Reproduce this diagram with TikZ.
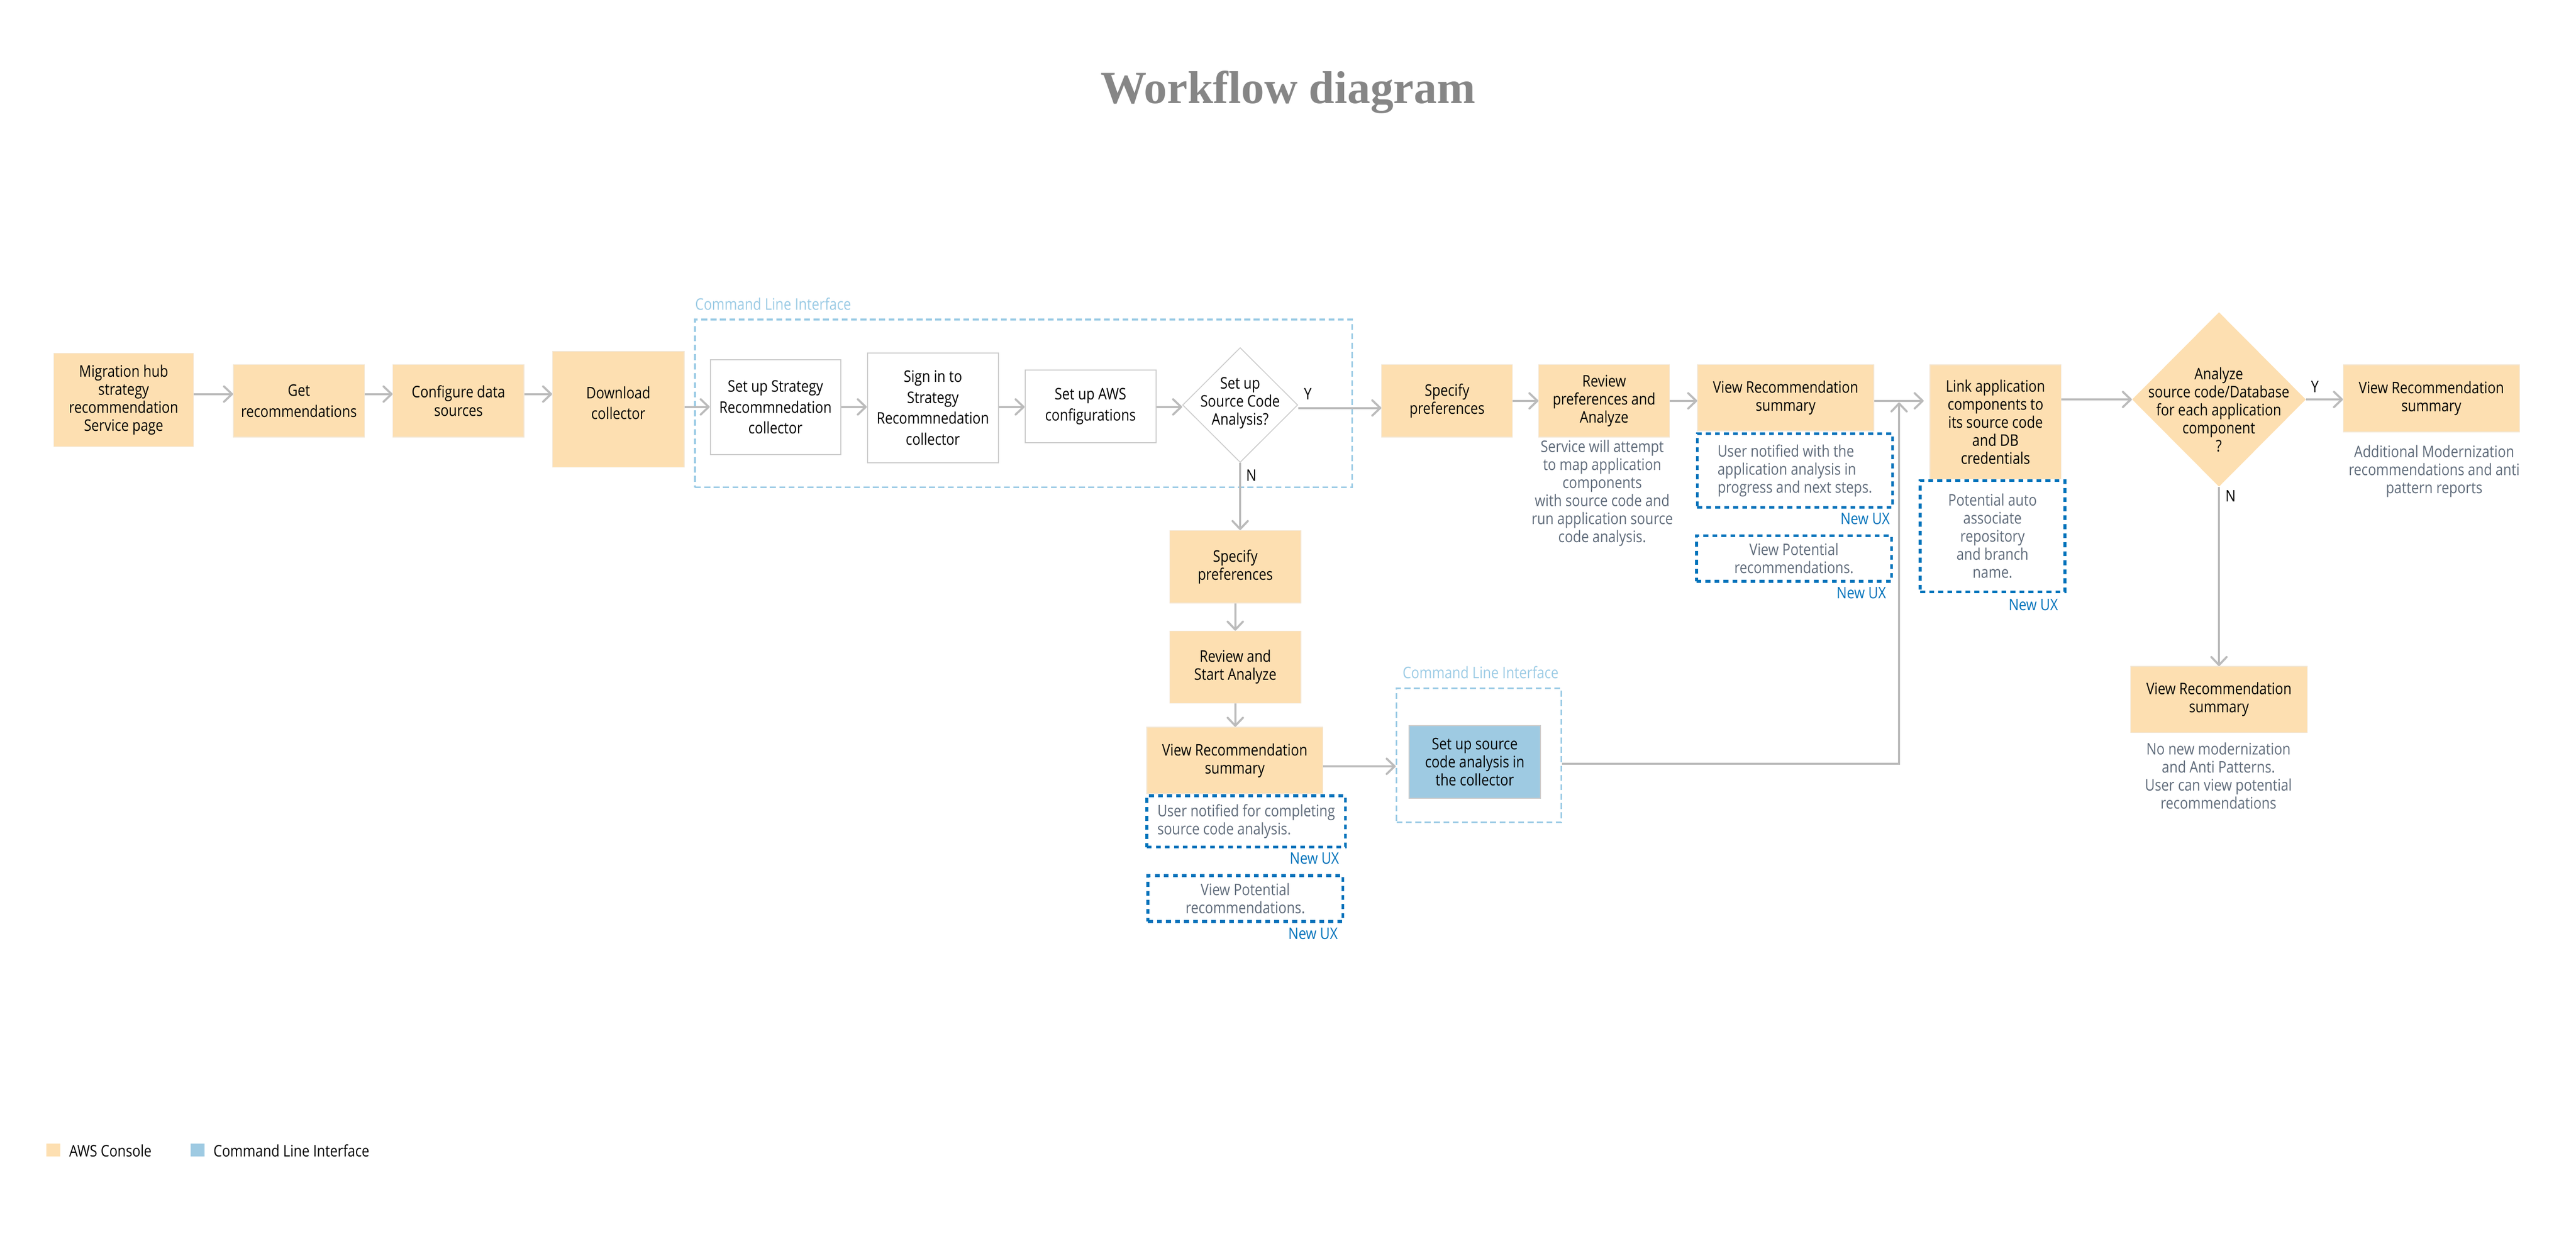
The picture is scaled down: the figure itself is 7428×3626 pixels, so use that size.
\documentclass[tikz,border=0pt]{standalone}
\usepackage{fontspec}
\setmainfont{Open Sans}[FakeStretch=0.85]
\newfontfamily\titlefont{Liberation Serif}
\usetikzlibrary{arrows.meta,shapes.geometric}
\definecolor{boxorange}{HTML}{FDDFB1}
\definecolor{boxedge}{HTML}{F3E6D3}
\definecolor{cliblue}{HTML}{9BCBE5}
\definecolor{clifill}{HTML}{9ECAE2}
\definecolor{uxblue}{HTML}{0073BB}
\definecolor{txtgray}{HTML}{5F6B7A}
\definecolor{arrgray}{HTML}{BBBBBB}
\definecolor{wedge}{HTML}{CCCCCC}
\definecolor{titlegray}{HTML}{868686}
\newcommand\bodyfont{\fontsize{13.09pt}{14.8pt}\selectfont}
\newcommand\bodyfontb{\fontsize{13.09pt}{17.07pt}\selectfont}
\begin{document}
\begin{tikzpicture}[x=0.1mm,y=-0.1mm,
  every node/.style={font=\bodyfont, inner sep=0pt},
  wh/.style 2 args={minimum width={#1*0.1mm}, minimum height={#2*0.1mm}},
  obox/.style={rectangle, fill=boxorange, draw=boxedge, line width=0.2mm, align=center},
  wbox/.style={rectangle, fill=white, draw=wedge, line width=0.3mm, align=center, font=\bodyfontb},
  bbox/.style={rectangle, fill=clifill, draw=wedge, line width=0.3mm, align=center},
  clibox/.style={rectangle, draw=cliblue, line width=0.5mm, dash pattern=on 1.7mm off 1.0mm},
  uxbox/.style={rectangle, draw=uxblue, line width=0.8mm, dash pattern=on 1.4mm off 1.2mm, text=txtgray},
  note/.style={text=txtgray, align=center},
  newux/.style={text=uxblue, anchor=east},
  clilabel/.style={text=cliblue, anchor=west},
  arr/.style={draw=arrgray, line width=0.6mm, -{Straight Barb[length=2.3mm, width=4.4mm, round]}}
]
\useasboundingbox (0,0) rectangle (7428,3626);
\fill[white] (0,0) rectangle (7428,3626);

% title
\node[font={\titlefont\bfseries\fontsize{37.8pt}{40pt}\selectfont}, text=titlegray, anchor=base] (title) at (3714,298) {Workflow diagram};

% CLI groups
\node[clibox, wh={1895}{484}] (cli1) at (2951.5,1163) {};
\node[clilabel] (cli1l) at (2004,876) {Command Line Interface};
\node[clibox, wh={475}{386}] (cli2) at (4264.5,2177) {};
\node[clilabel] (cli2l) at (4044,1939) {Command Line Interface};

% main row
\node[obox, wh={403}{269}] (n1) at (356.5,1152.5) {Migration hub\\strategy\\recommendation\\Service page};
\node[obox, wh={378}{209}, font=\bodyfontb] (n2) at (862,1155.5) {Get\\recommendations};
\node[obox, wh={378}{209}] (n3) at (1322,1155.5) {Configure data\\sources};
\node[obox, wh={380}{334}, label={[name=n4t, align=center, font=\bodyfontb, yshift=1.8mm]center:{Download\\collector}}] (n4) at (1783,1180) {};
\node[wbox, wh={376}{274}] (a1) at (2236,1174) {Set up Strategy\\Recommnedation\\collector};
\node[wbox, wh={378}{317}] (b1) at (2690,1175.5) {Sign in to\\Strategy\\Recommnedation\\collector};
\node[wbox, wh={377}{209}] (c1) at (3144.5,1171.5) {Set up AWS\\configurations};
\node[diamond, fill=white, draw=wedge, line width=0.25mm, wh={332}{331}] (d1) at (3576,1167.5) {};
\node[align=center] (d1t) at (3576,1162) {Set up\\Source Code\\Analysis?};
\node (y1) at (3771,1136) {Y};
\node (n1l) at (3608,1370) {N};

% right part
\node[obox, wh={377}{209}] (s1) at (4172.5,1155.5) {Specify\\preferences};
\node[obox, wh={377}{209}] (r1) at (4625.5,1155.5) {Review\\preferences and\\Analyze};
\node[obox, wh={508}{191}] (v1) at (5149,1146.5) {View Recommendation\\summary};
\node[note] (t1) at (4620,1421.5) {Service will attempt\\to map application\\components\\with source code and\\run application source\\code analysis.};
\node[uxbox, wh={563}{213}, align=left] (u1) at (5175.5,1356.5) {User notified with the\\application analysis in\\progress and next steps.};
\node[newux] (x1) at (5450,1496) {New UX};
\node[uxbox, wh={562}{132}, align=center] (p1) at (5173,1610) {View Potential\\recommendations.};
\node[newux] (x2) at (5439,1709) {New UX};
\node[obox, wh={378}{329}] (l1) at (5754,1216.5) {Link application\\components to\\its source code\\and DB\\credentials};
\node[uxbox, wh={417}{321}, align=center] (p2) at (5745.5,1545.5) {Potential auto\\associate\\repository\\and branch\\name.};
\node[newux] (x3) at (5935,1743) {New UX};
\node[diamond, fill=boxorange, wh={501}{503}] (d2) at (6398.5,1151.5) {};
\node[align=center] (d2t) at (6398,1181) {Analyze\\source code/Database\\for each application\\component\\?};
\node (y2) at (6675,1115) {Y};
\node (n2l) at (6432,1430) {N};
\node[obox, wh={508}{193}] (v2) at (7011,1148.5) {View Recommendation\\summary};
\node[note] (t2) at (7019,1358) {Additional Modernization\\recommendations and anti\\pattern reports};
\node[obox, wh={509}{191}] (v3) at (6398.5,2016.5) {View Recommendation\\summary};
\node[note] (t3) at (6397,2236) {No new modernization\\and Anti Patterns.\\User can view potential\\recommendations};

% lower-left flow
\node[obox, wh={378}{209}] (s2) at (3562,1633.5) {Specify\\preferences};
\node[obox, wh={378}{208}] (r2) at (3562,1923) {Review and\\Start Analyze};
\node[obox, wh={507}{192}] (v4) at (3560.5,2192) {View Recommendation\\summary};
\node[uxbox, wh={573}{148}, align=left] (u2) at (3593.5,2368) {User notified for completing\\source code analysis.};
\node[newux] (x4) at (3862,2475) {New UX};
\node[uxbox, wh={562}{132}, align=center] (p3) at (3591,2590) {View Potential\\recommendations.};
\node[newux] (x5) at (3858,2692) {New UX};
\node[bbox, wh={379}{210}] (bl) at (4252.5,2196) {Set up source\\code analysis in\\the collector};

% legend
\node[fill=boxorange, wh={40}{38}] (lg1) at (154,3315) {};
\node[anchor=west] (lg1t) at (199,3317) {AWS Console};
\node[fill=clifill, wh={40}{38}] (lg2) at (570,3315) {};
\node[anchor=west] (lg2t) at (615,3317) {Command Line Interface};

% helper coordinates
\coordinate (ya) at (0,1136);
\coordinate (yb) at (0,1173);
\coordinate (ye) at (0,1176);
\coordinate (yc) at (0,2209);
\coordinate (yd) at (0,2201);
\coordinate (jn) at (5476,1160);

% connectors
\draw[arr] (n1.east |- ya) -- (n2.west |- ya);
\draw[arr] (n2.east |- ya) -- (n3.west |- ya);
\draw[arr] (n3.east |- ya) -- (n4.west |- ya);
\draw[arr] (n4.east |- yb) -- (a1.west |- yb);
\draw[arr] (a1.east |- yb) -- (b1.west |- yb);
\draw[arr] (b1.east |- yb) -- (c1.west |- yb);
\draw[arr] (c1.east |- yb) -- (d1.west |- yb);
\draw[arr] (d1.east |- ye) -- (s1.west |- ye);
\draw[arr] (d1.south) -- (d1.south |- s2.north);
\draw[arr] (s2.south) -- (r2.north);
\draw[arr] (r2.south) -- (r2.south |- v4.north);
\draw[arr] (s1.east) -- (r1.west);
\draw[arr] (r1.east) -- (v1.west |- r1.east);
\draw[arr, shorten >=1.7mm] (v1.east |- r1.east) -- (l1.west |- r1.east);
\draw[arr] (l1.east |- d2.west) -- (d2.west);
\draw[arr] (d2.east) -- (v2.west |- d2.east);
\draw[arr] (d2.south) -- (d2.south |- v3.north);
\draw[arr] (v4.east |- yc) -- (cli2.west |- yc);
\draw[arr] (cli2.east |- yd) -| (jn);
\end{tikzpicture}
\end{document}
